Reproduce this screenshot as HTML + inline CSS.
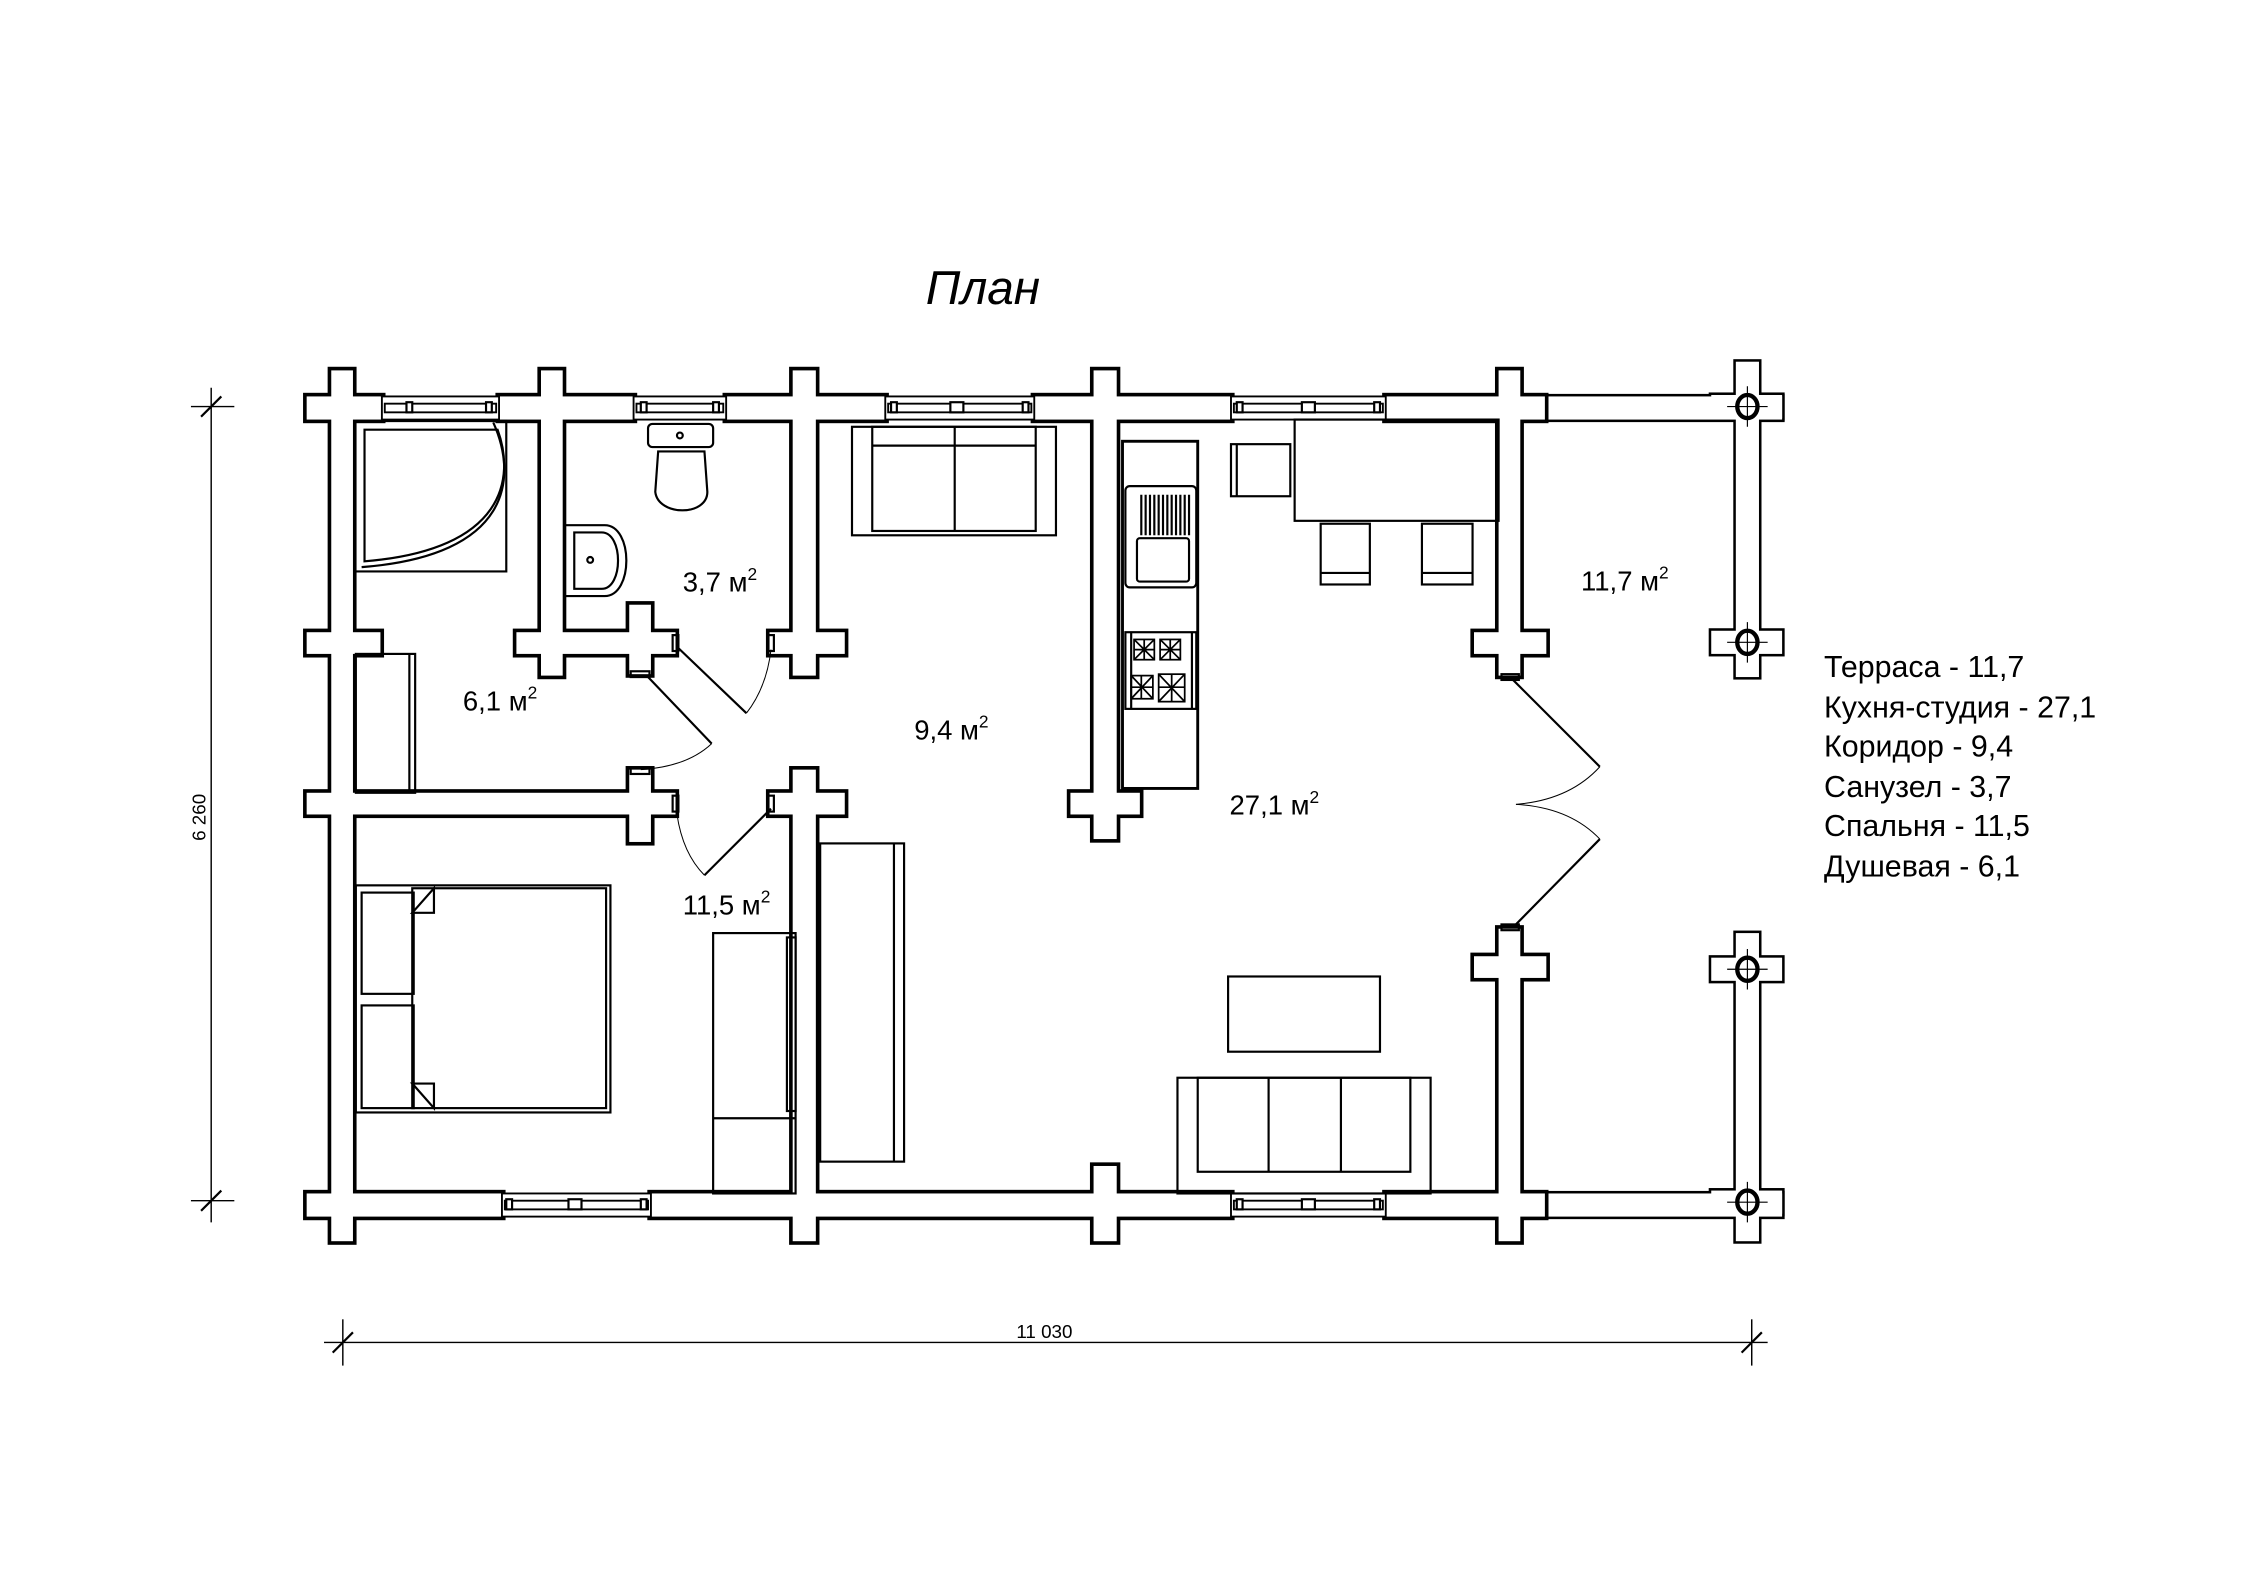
<!DOCTYPE html>
<html><head><meta charset="utf-8"><style>
html,body{margin:0;padding:0;background:#fff;}
svg{display:block;}
text{font-family:"Liberation Sans",sans-serif;fill:#000;}
</style></head><body>
<svg width="2245" height="1587" viewBox="0 0 1552 1097" xmlns="http://www.w3.org/2000/svg">
<defs>
<g id="terr">
<rect x="1051" y="274" width="181" height="16"/>
<rect x="1051" y="825" width="181" height="16"/>
<rect x="1200" y="250" width="16" height="218"/>
<rect x="1183" y="273" width="49" height="16"/>
<rect x="1183" y="436" width="49" height="16"/>
<rect x="1200" y="645" width="16" height="213"/>
<rect x="1183" y="662" width="49" height="16"/>
<rect x="1183" y="823" width="49" height="16"/>
</g>
<g id="walls">
<rect x="229" y="256" width="15" height="602"/>
<rect x="374" y="256" width="15" height="211"/>
<rect x="548" y="256" width="16" height="211"/>
<rect x="548" y="532" width="16" height="326"/>
<rect x="756" y="256" width="16" height="324"/>
<rect x="756" y="806" width="16" height="52"/>
<rect x="1036" y="256" width="15" height="211"/>
<rect x="1036" y="642" width="15" height="216"/>
<rect x="435" y="418" width="15" height="48"/>
<rect x="435" y="532" width="15" height="50"/>
<rect x="212" y="274" width="52" height="16"/>
<rect x="345" y="274" width="93" height="16"/>
<rect x="502" y="274" width="110" height="16"/>
<rect x="715" y="274" width="136" height="16"/>
<rect x="958" y="274" width="110" height="16"/>
<rect x="212" y="825" width="135" height="16"/>
<rect x="450" y="825" width="401" height="16"/>
<rect x="958" y="825" width="110" height="16"/>
<rect x="212" y="437" width="51" height="15"/>
<rect x="357" y="437" width="110" height="15"/>
<rect x="532" y="437" width="52" height="15"/>
<rect x="1019" y="437" width="50" height="15"/>
<rect x="212" y="548" width="255" height="15"/>
<rect x="532" y="548" width="52" height="15"/>
<rect x="740" y="548" width="48" height="15"/>
<rect x="1019" y="661" width="50" height="15"/>
</g>
</defs>
<rect width="1552" height="1097" fill="#fff"/>

<text x="640" y="210" font-size="33" font-style="italic">План</text>

<!-- terrace -->
<use href="#terr" fill="#000" stroke="#000" stroke-width="3.5"/>
<use href="#terr" fill="#fff"/>
<g fill="#fff" stroke="#000" stroke-width="3">
<ellipse cx="1208" cy="281" rx="7" ry="8"/>
<ellipse cx="1208" cy="444" rx="7" ry="8"/>
<ellipse cx="1208" cy="670" rx="7" ry="8"/>
<ellipse cx="1208" cy="831" rx="7" ry="8"/>
</g>
<g stroke="#000" stroke-width="0.8">
<path d="M1194 281h28M1208 267v28M1194 444h28M1208 430v28M1194 670h28M1208 656v28M1194 831h28M1208 817v28"/>
</g>

<!-- walls -->
<use href="#walls" fill="#000" stroke="#000" stroke-width="5"/>
<use href="#walls" fill="#fff"/>

<!-- windows -->
<g fill="#fff" stroke="#000" stroke-width="1.3">
<rect x="264" y="274" width="81" height="16"/><rect x="266" y="279" width="77" height="6"/>
<rect x="438" y="274" width="64" height="16"/><rect x="440" y="279" width="60" height="6"/>
<rect x="612" y="274" width="103" height="16"/><rect x="614" y="279" width="99" height="6"/>
<rect x="851" y="274" width="107" height="16"/><rect x="853" y="279" width="103" height="6"/>
<rect x="347" y="825" width="103" height="16"/><rect x="349" y="830" width="99" height="6"/>
<rect x="851" y="825" width="107" height="16"/><rect x="853" y="830" width="103" height="6"/>
</g>
<g fill="#fff" stroke="#000" stroke-width="1.5">
<rect x="281" y="278" width="4" height="7"/><rect x="336" y="278" width="4" height="7"/>
<rect x="443" y="278" width="4" height="7"/><rect x="493" y="278" width="4" height="7"/>
<rect x="616" y="278" width="4" height="7"/><rect x="657" y="278" width="9" height="7"/><rect x="707" y="278" width="4" height="7"/>
<rect x="855" y="278" width="4" height="7"/><rect x="900" y="278" width="9" height="7"/><rect x="950" y="278" width="4" height="7"/>
<rect x="350" y="829" width="4" height="7"/><rect x="393" y="829" width="9" height="7"/><rect x="443" y="829" width="4" height="7"/>
<rect x="855" y="829" width="4" height="7"/><rect x="900" y="829" width="9" height="7"/><rect x="950" y="829" width="4" height="7"/>
</g>

<!-- furniture -->
<g fill="none" stroke="#000" stroke-width="1.5">
<!-- shower -->
<path d="M246 291H350V395H246"/>
<path d="M252 297H344C356 330 350 380 252 388Z"/>
<path d="M341 292C358 330 354 384 250 392"/>
<!-- closet -->
<rect x="246" y="452" width="41" height="96"/>
<line x1="283" y1="452" x2="283" y2="548"/>
<!-- toilet -->
<rect x="448" y="293" width="45" height="16" rx="3"/>
<circle cx="470" cy="301" r="2"/>
<path d="M455 312H487L489 340C489 357 455 357 453 340Z"/>
<!-- sink -->
<path d="M391 363H418C438 363 438 412 418 412H391"/>
<path d="M397 368H416C431 368 431 407 416 407H397Z"/>
<circle cx="408" cy="387" r="2"/>
<!-- corridor sofa -->
<rect x="589" y="295" width="141" height="75"/>
<rect x="603" y="295" width="113" height="72"/>
<line x1="660" y1="295" x2="660" y2="367"/>
<line x1="603" y1="308" x2="716" y2="308"/>
<!-- kitchen -->
<rect x="776" y="305" width="52" height="240" stroke-width="2"/>
<rect x="778" y="336" width="49" height="70" rx="3"/>
<rect x="786" y="372" width="36" height="30" rx="2"/>
<rect x="778" y="437" width="49" height="53"/>
<line x1="782" y1="437" x2="782" y2="490"/><line x1="824" y1="437" x2="824" y2="490"/>
<!-- table / chairs -->
<rect x="895" y="290" width="141" height="70"/>
<rect x="851" y="307" width="41" height="36"/>
<line x1="855" y1="307" x2="855" y2="343"/>
<rect x="913" y="362" width="34" height="42"/><line x1="913" y1="396" x2="947" y2="396"/>
<rect x="983" y="362" width="35" height="42"/><line x1="983" y1="396" x2="1018" y2="396"/>
<!-- bed -->
<rect x="246" y="612" width="176" height="157"/>
<rect x="285" y="614" width="134" height="152"/>
<rect x="250" y="617" width="36" height="70"/>
<rect x="250" y="695" width="36" height="71"/>
<path d="M285 631L300 614V631Z" fill="#fff"/>
<path d="M285 749L300 766V749Z" fill="#fff"/>
<!-- bedroom wardrobe -->
<rect x="493" y="645" width="57" height="180"/>
<line x1="493" y1="773" x2="550" y2="773"/>
<rect x="544" y="648" width="6" height="120"/>
<!-- corridor cabinet -->
<rect x="567" y="583" width="58" height="220"/>
<line x1="618" y1="583" x2="618" y2="803"/>
<!-- coffee table -->
<rect x="849" y="675" width="105" height="52"/>
<!-- bottom sofa -->
<rect x="814" y="745" width="175" height="80"/>
<rect x="828" y="745" width="147" height="65"/>
<line x1="877" y1="745" x2="877" y2="810"/><line x1="927" y1="745" x2="927" y2="810"/>
</g>
<!-- sink drainer & burners -->
<g stroke="#000" stroke-width="1.5">
<path d="M789 342v28M792 342v28M795 342v28M798 342v28M801 342v28M804 342v28M807 342v28M810 342v28M813 342v28M816 342v28M819 342v28M822 342v28"/>
</g>
<g fill="none" stroke="#000" stroke-width="1.2">
<rect x="784" y="442" width="14" height="14"/><rect x="802" y="442" width="14" height="14"/>
<rect x="782" y="467" width="15" height="16"/><rect x="801" y="466" width="18" height="19"/>
<path d="M784 442l14 14M798 442l-14 14M791 442v14M784 449h14M802 442l14 14M816 442l-14 14M809 442v14M802 449h14M782 467l15 16M797 467l-15 16M789 467v16M782 475h15M801 466l18 19M819 466l-18 19M810 466v19M801 475h18"/>
</g>

<!-- doors -->
<g fill="none" stroke="#000">
<rect x="465" y="439" width="4" height="11" stroke-width="1.5"/>
<rect x="531" y="439" width="4" height="11" stroke-width="1.5"/>
<rect x="436" y="464" width="13" height="4" stroke-width="1.5"/>
<rect x="436" y="531" width="13" height="4" stroke-width="1.5"/>
<rect x="465" y="550" width="4" height="11" stroke-width="1.5"/>
<rect x="531" y="550" width="4" height="11" stroke-width="1.5"/>
<rect x="1038" y="466" width="12" height="4" stroke-width="1.5"/>
<rect x="1038" y="639" width="12" height="4" stroke-width="1.5"/>
<path d="M469 448L516 493" stroke-width="1.5"/>
<path d="M516 493Q530 475 533 449" stroke-width="0.7"/>
<path d="M448 468L492 514" stroke-width="1.5"/>
<path d="M492 514Q475 530 443 532" stroke-width="0.7"/>
<path d="M533 559L487 605" stroke-width="1.5"/>
<path d="M468 563Q472 590 487 605" stroke-width="0.7"/>
<path d="M1046 470L1106 530" stroke-width="1.5"/>
<path d="M1106 530Q1085 553 1048 556" stroke-width="0.7"/>
<path d="M1046 641L1106 580" stroke-width="1.5"/>
<path d="M1106 580Q1085 558 1048 556" stroke-width="0.7"/>
</g>

<!-- area labels -->
<g font-size="19">
<text x="472" y="409">3,7 м<tspan font-size="12" dy="-8">2</tspan></text>
<text x="320" y="491">6,1 м<tspan font-size="12" dy="-8">2</tspan></text>
<text x="632" y="511">9,4 м<tspan font-size="12" dy="-8">2</tspan></text>
<text x="850" y="563">27,1 м<tspan font-size="12" dy="-8">2</tspan></text>
<text x="472" y="632">11,5 м<tspan font-size="12" dy="-8">2</tspan></text>
<text x="1093" y="408">11,7 м<tspan font-size="12" dy="-8">2</tspan></text>
</g>

<!-- legend -->
<g font-size="21">
<text x="1261" y="468">Терраса - 11,7</text>
<text x="1261" y="496">Кухня-студия - 27,1</text>
<text x="1261" y="523">Коридор - 9,4</text>
<text x="1261" y="551">Санузел - 3,7</text>
<text x="1261" y="578">Спальня - 11,5</text>
<text x="1261" y="606">Душевая - 6,1</text>
</g>

<!-- dimensions -->
<g stroke="#000" stroke-width="1">
<line x1="146" y1="268" x2="146" y2="845"/>
<line x1="132" y1="281" x2="162" y2="281"/>
<line x1="132" y1="830" x2="162" y2="830"/>
<line x1="139" y1="288" x2="153" y2="274" stroke-width="1.5"/>
<line x1="139" y1="837" x2="153" y2="823" stroke-width="1.5"/>
<line x1="224" y1="928" x2="1222" y2="928"/>
<line x1="237" y1="912" x2="237" y2="944"/>
<line x1="1211" y1="912" x2="1211" y2="944"/>
<line x1="230" y1="935" x2="244" y2="921" stroke-width="1.5"/>
<line x1="1204" y1="935" x2="1218" y2="921" stroke-width="1.5"/>
</g>
<text x="722" y="925" font-size="13" text-anchor="middle">11 030</text>
<text transform="translate(142,565) rotate(-90)" font-size="13" text-anchor="middle">6 260</text>
</svg>
</body></html>
